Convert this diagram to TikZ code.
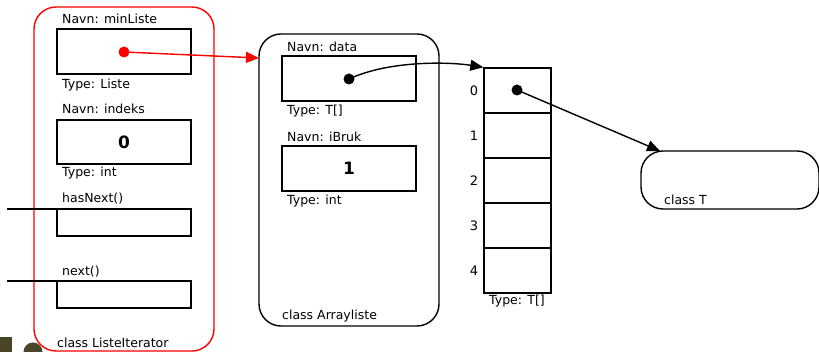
\documentclass[tikz,border=0pt]{standalone}
\usepackage{fontspec}
\setmainfont{DejaVu Sans}
\usetikzlibrary{arrows.meta}
\begin{document}
\begin{tikzpicture}[x=1pt,y=-1pt,
  lbl/.style={anchor=base west,inner sep=0pt,font=\fontsize{12.5}{14}\selectfont},
  idx/.style={anchor=base,inner sep=0pt,font=\fontsize{13}{15}\selectfont},
  cell/.style={draw,line width=1.4pt,minimum width=134pt,inner sep=0pt,font=\fontsize{17}{19}\selectfont\bfseries},
  acell/.style={draw,line width=1.4pt,minimum width=67pt,minimum height=45pt,inner sep=0pt},
  objbox/.style={draw,line width=1.4pt,rounded corners=22pt},
  ptr/.style={line width=1.4pt,-{Triangle[length=13pt,width=11pt]}},
  dot/.style={circle,fill,inner sep=0pt,minimum size=11pt},
  wire/.style={line width=1.4pt}]
\useasboundingbox (0,0) rectangle (819,352);
\definecolor{olive}{HTML}{4A4528}
% partly visible marks at the lower left corner
\begin{scope}
\clip (0,0) rectangle (819,352);
\fill[olive] (0,337) rectangle (12,353);
\fill[olive] (33,352) circle (9.5);
\end{scope}

% class ListeIterator
\draw[objbox,red] (34,7) rectangle (214,351);
\node[lbl] at (62,24) {Navn: minListe};
\node[cell,minimum height=45pt] (minListe) at (124,51.5) {};
\node[lbl] at (62,89) {Type: Liste};
\node[lbl] at (62,114) {Navn: indeks};
\node[cell,minimum height=44pt] (indeks) at (124,142) {0};
\node[lbl] at (62,177) {Type: int};
\node[lbl] at (62,203) {hasNext()};
\node[cell,minimum height=27pt] (hasNext) at (124,222.5) {};
\node[lbl] at (62,276) {next()};
\node[cell,minimum height=27pt] (next) at (124,294.5) {};
\node[lbl] at (57,348) {class ListeIterator};
\coordinate (hnL) at (7,209);
\coordinate (hnR) at (124,209);
\coordinate (nxL) at (7,281);
\coordinate (nxR) at (124,281);
\draw[wire] (hnL) -- (hnR);
\draw[wire] (nxL) -- (nxR);
\node[dot,red] (rdot) at (124,52) {};

% class Arrayliste
\draw[objbox] (259,34) rectangle (439,326);
\coordinate (alEntry) at (259,58);
\node[lbl] at (287,52) {Navn: data};
\node[cell,minimum height=45pt] (data) at (349,78.5) {};
\node[lbl] at (287,115) {Type: T[]};
\node[lbl] at (287,142) {Navn: iBruk};
\node[cell,minimum height=45pt] (iBruk) at (349,168.5) {1};
\node[lbl] at (287,205) {Type: int};
\node[lbl] at (282,320) {class Arrayliste};
\node[dot] (ddot) at (349,79) {};

% array T[]
\foreach \i in {0,...,4}{
  \node[acell] (a\i) at (517.5,{90.5+45*\i}) {};
  \node[idx] at (474,{96+45*\i}) {\i};
}
\node[lbl] at (489,305) {Type: T[]};
\node[dot] (adot) at (517,90) {};

% class T
\draw[objbox] (641,151) rectangle (819,209);
\coordinate (tEntry) at (660,151);
\node[lbl] at (664,205) {class T};

% references
\draw[ptr,red] (rdot.center) -- (alEntry);
\draw[ptr] (ddot.center) .. controls (390,60) and (450,62) .. (a0.north west);
\draw[ptr] (adot.center) -- (tEntry);
\end{tikzpicture}
\end{document}
